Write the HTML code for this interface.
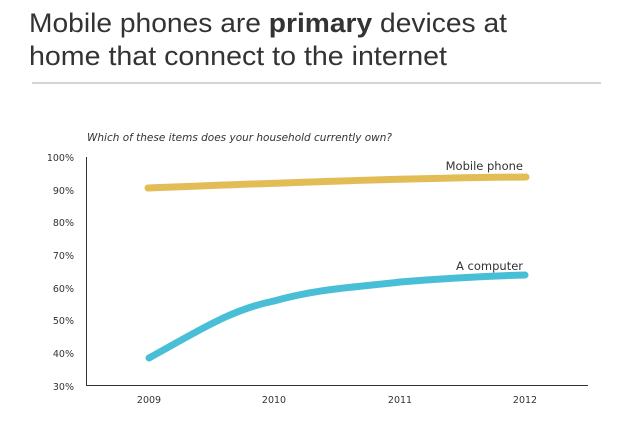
<!DOCTYPE html>
<html><head><meta charset="utf-8"><style>
html,body{margin:0;padding:0;background:#fff;}
svg{display:block}
</style></head><body>
<svg width="634" height="423" viewBox="0 0 634 423" xmlns="http://www.w3.org/2000/svg">
<rect width="634" height="423" fill="#fff"/>
<g font-family="Liberation Sans, sans-serif" font-size="27" fill="#333">
<text x="29" y="32" textLength="478" lengthAdjust="spacingAndGlyphs">Mobile phones are <tspan font-weight="bold">primary</tspan> devices at</text>
<text x="29" y="65" textLength="418" lengthAdjust="spacingAndGlyphs">home that connect to the internet</text>
</g>
<line x1="32" y1="83" x2="601" y2="83" stroke="#aaa" stroke-width="1"/>
<text x="87" y="141" font-family="DejaVu Sans, sans-serif" font-style="italic" font-size="10.5" fill="#333" textLength="305" lengthAdjust="spacingAndGlyphs">Which of these items does your household currently own?</text>
<g font-family="DejaVu Sans, sans-serif" font-size="9.5" fill="#333" text-anchor="end">
<text x="74" y="161">100%</text>
<text x="74" y="194">90%</text>
<text x="74" y="226">80%</text>
<text x="74" y="259">70%</text>
<text x="74" y="292">60%</text>
<text x="74" y="324">50%</text>
<text x="74" y="357">40%</text>
<text x="74" y="390">30%</text>
</g>
<g font-family="DejaVu Sans, sans-serif" font-size="9.5" fill="#333" text-anchor="middle">
<text x="149" y="403">2009</text>
<text x="274" y="403">2010</text>
<text x="400" y="403">2011</text>
<text x="525" y="403">2012</text>
</g>
<line x1="86.5" y1="157" x2="86.5" y2="386" stroke="#333" stroke-width="1"/>
<line x1="86" y1="385.5" x2="588" y2="385.5" stroke="#333" stroke-width="1"/>
<path d="M148,188 C250,184 400,178 526,177" fill="none" stroke="#e2bd55" stroke-width="7" stroke-linecap="round"/>
<path d="M149,358 C200,330 230,310 274,301 C320,288 360,287 400,282 C450,278 490,276 525,275" fill="none" stroke="#48bfd6" stroke-width="7" stroke-linecap="round"/>
<g font-family="DejaVu Sans, sans-serif" font-size="11.5" fill="#333" text-anchor="end">
<text x="523" y="170">Mobile phone</text>
<text x="523" y="270">A computer</text>
</g>
</svg>
</body></html>
